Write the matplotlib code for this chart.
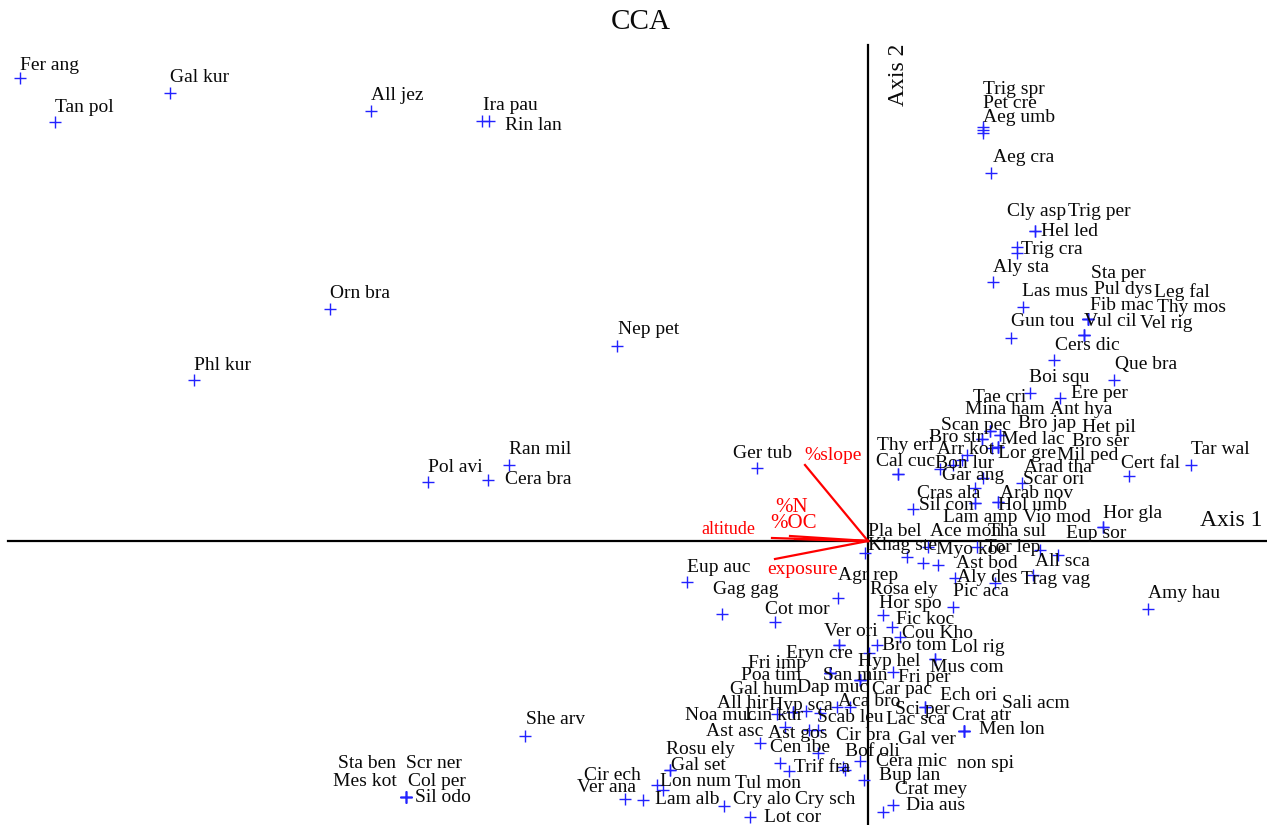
import matplotlib
matplotlib.use("Agg")
import matplotlib.pyplot as plt

# ---- species scores (CCA axis 1, axis 2) ----
names = [
    "Fer ang", "Gal kur", "Tan pol", "All jez", "Ira pau", "Rin lan", "Orn bra", "Nep pet", "Phl kur", "Ran mil", "Pol avi", "Cera bra", "Ger tub",
    "Trig spr", "Pet cre", "Aeg umb", "Aeg cra", "Cly asp", "Trig per", "Hel led", "Trig cra", "Aly sta", "Sta per", "Pul dys", "Leg fal", "Fib mac", "Thy mos", "Vul cil", "Vel rig", "Las mus", "Gun tou", "Cers dic", "Que bra", "Boi squ", "Ere per",
    "Tae cri", "Mina ham", "Ant hya", "Scan pec", "Bro jap", "Het pil", "Bro str", "Med lac", "Bro ser", "Thy eri", "Arr kot", "Lor gre", "Mil ped", "Cal cuc", "Bon lur", "Cert fal", "Tar wal",
    "Gar ang", "Arad tha", "Scar ori", "Cras ala", "Arab nov", "Sil con", "Hol umb", "Lam amp", "Vio mod", "Hor gla", "Pla bel", "Ace mon", "Tha sul", "Eup sor", "Khag ste", "Tor lep", "Myo koe", "All sca", "Ast bod", "Aly des", "Trag vag", "Pic aca", "Amy hau",
    "Eup auc", "Gag gag", "Cot mor", "Agr rep", "Rosa ely", "Hor spo", "Fic koc", "Ver ori", "Cou Kho", "Bro tom", "Lol rig", "Eryn cre", "Hyp hel", "Fri imp", "Mus com", "Poa tim", "San min", "Fri per", "Gal hum", "Dap muc", "Car pac",
    "Ech ori", "All hir", "Hyp sca", "Aca bro", "Sali acm", "Sci per", "Crat atr", "Noa muc", "Lin kur", "Scab leu", "Lac sca", "Men lon", "Ast asc", "Ast gos", "Cir bra", "Gal ver", "She arv", "Rosu ely", "Cen ibe", "Bof oli", "Cera mic", "non spi", "Gal set", "Trif fra", "Bup lan", "Cir ech", "Ver ana", "Lon num", "Tul mon", "Crat mey", "Lam alb", "Cry alo", "Cry sch", "Lot cor", "Dia aus",
    "Sta ben", "Scr ner", "Mes kot", "Col per", "Sil odo",
]

sp_x = [
    -8.48, -6.98, -8.13, -4.97, -3.86, -3.79, -5.38, -2.51, -6.74, -3.59, -4.40, -3.80, -1.11,
    1.15, 1.15, 1.15, 1.23, 1.49, 1.67, 1.67, 1.49, 1.25, 2.20, 2.20, 2.20, 2.20, 2.16, 2.16, 2.16, 1.55, 1.43, 1.86, 2.46, 1.62, 1.92,
    1.22, 1.32, 1.32, 1.14, 1.22, 1.30, 1.14, 1.24, 1.30, 0.30, 0.99, 0.94, 1.30, 0.30, 0.85, 2.61, 3.23,
    0.72, 1.15, 1.54, 1.07, 1.07, 0.45, 1.30, 1.07, 1.30, 2.35, -0.03, 0.60, 1.09, 2.35, 0.55, 1.72, 0.70, 1.90, 0.87, 1.27, 1.65, 0.85, 2.80,
    -1.81, -1.46, -0.93, -0.30, 0.39, 0.15, 0.24, -0.29, 0.32, 0.09, 0.67, -0.29, 0.01, -0.38, 0.67, -0.38, -0.38, 0.25, -0.08, -0.08, -0.08,
    0.57, -0.75, -0.75, -0.31, 0.96, 0.57, 0.96, -0.91, -0.62, -0.18, -0.48, 0.96, -1.08, -0.83, -0.59, -0.50, -3.43, -1.98, -0.50, -0.08, -0.23, 0.96, -1.98, -0.79, -0.04, -2.43, -2.25, -2.11, -0.88, 0.25, -2.05, -1.44, -0.25, -1.18, 0.15,
    -4.62, -4.62, -4.62, -4.62, -4.62,
]

sp_y = [
    4.63, 4.48, 4.19, 4.30, 4.20, 4.20, 2.32, 1.95, 1.61, 0.76, 0.59, 0.61, 0.73,
    4.14, 4.11, 4.08, 3.68, 2.94, 3.10, 3.10, 2.88, 2.59, 2.22, 2.22, 2.22, 2.22, 2.06, 2.06, 2.06, 2.34, 2.03, 1.81, 1.61, 1.48, 1.43,
    1.10, 1.06, 1.06, 1.02, 1.10, 0.94, 1.02, 0.93, 0.94, 0.67, 0.86, 0.81, 0.94, 0.67, 0.76, 0.65, 0.76,
    0.72, 0.63, 0.58, 0.53, 0.38, 0.32, 0.39, 0.38, 0.39, 0.14, -0.12, -0.06, -0.06, 0.14, -0.22, -0.09, -0.24, -0.14, -0.37, -0.42, -0.34, -0.66, -0.68,
    -0.41, -0.73, -0.81, -0.57, -0.16, -0.74, -0.86, -1.04, -0.96, -1.04, -1.18, -1.04, -1.12, -1.32, -1.18, -1.32, -1.32, -1.31, -1.39, -1.39, -1.39,
    -1.66, -1.71, -1.71, -1.66, -1.90, -1.66, -1.90, -1.73, -1.70, -1.66, -1.72, -1.90, -2.02, -1.86, -1.89, -1.89, -1.95, -2.29, -2.12, -2.20, -2.29, -1.90, -2.29, -2.30, -2.39, -2.58, -2.59, -2.44, -2.22, -2.64, -2.49, -2.65, -2.26, -2.76, -2.71,
    -2.56, -2.56, -2.56, -2.56, -2.56,
]

# label anchor (left edge, vertical centre), in the same axis units
lab_x = [
    -8.48, -6.98, -8.13, -4.97, -3.85, -3.63, -5.38, -2.50, -6.74, -3.59, -4.40, -3.63, -1.35,
    1.15, 1.15, 1.15, 1.25, 1.39, 2.00, 1.73, 1.53, 1.25, 2.23, 2.26, 2.86, 2.22, 2.89, 2.16, 2.72, 1.54, 1.43, 1.87, 2.47, 1.61, 2.03,
    1.05, 0.97, 1.82, 0.73, 1.50, 2.14, 0.61, 1.33, 2.04, 0.09, 0.69, 1.30, 1.89, 0.08, 0.67, 2.53, 3.23,
    0.74, 1.56, 1.55, 0.49, 1.32, 0.51, 1.30, 0.75, 1.55, 2.35, 0.00, 0.62, 1.20, 1.98, 0.00, 1.17, 0.68, 1.67, 0.88, 0.89, 1.53, 0.85, 2.80,
    -1.81, -1.55, -1.03, -0.30, 0.02, 0.11, 0.28, -0.44, 0.34, 0.14, 0.83, -0.82, -0.10, -1.20, 0.62, -1.27, -0.45, 0.30, -1.38, -0.71, 0.04,
    0.72, -1.51, -0.99, -0.30, 1.34, 0.27, 0.84, -1.83, -1.23, -0.51, 0.18, 1.11, -1.62, -1.00, -0.32, 0.30, -3.42, -2.02, -0.98, -0.23, 0.08, 0.89, -1.97, -0.74, 0.11, -2.84, -2.91, -2.08, -1.33, 0.27, -2.13, -1.35, -0.73, -1.04, 0.38,
    -5.30, -4.62, -5.35, -4.60, -4.53,
]

lab_y = [
    4.76, 4.63, 4.33, 4.45, 4.36, 4.16, 2.47, 2.11, 1.76, 0.91, 0.74, 0.62, 0.88,
    4.51, 4.37, 4.23, 3.84, 3.29, 3.29, 3.09, 2.91, 2.73, 2.67, 2.52, 2.49, 2.36, 2.34, 2.20, 2.18, 2.49, 2.19, 1.96, 1.76, 1.64, 1.47,
    1.44, 1.31, 1.32, 1.16, 1.18, 1.14, 1.04, 1.02, 1.00, 0.95, 0.92, 0.88, 0.85, 0.80, 0.78, 0.78, 0.91,
    0.65, 0.74, 0.61, 0.48, 0.48, 0.35, 0.35, 0.24, 0.23, 0.28, 0.09, 0.09, 0.10, 0.08, -0.05, -0.06, -0.09, -0.21, -0.23, -0.36, -0.39, -0.51, -0.53,
    -0.27, -0.49, -0.68, -0.35, -0.49, -0.63, -0.78, -0.90, -0.93, -1.05, -1.07, -1.12, -1.20, -1.22, -1.27, -1.35, -1.35, -1.37, -1.49, -1.47, -1.48,
    -1.54, -1.62, -1.65, -1.60, -1.62, -1.68, -1.75, -1.75, -1.75, -1.76, -1.79, -1.88, -1.91, -1.92, -1.95, -1.98, -1.79, -2.08, -2.07, -2.10, -2.20, -2.22, -2.25, -2.26, -2.34, -2.34, -2.47, -2.41, -2.42, -2.48, -2.59, -2.59, -2.59, -2.76, -2.65,
    -2.22, -2.22, -2.40, -2.40, -2.56,
]

# ---- environmental variables (biplot arrows) ----
env_names = ["%slope", "altitude", "%N", "%OC", "exposure"]
env_x = [-0.63, -0.96, -0.78, -0.73, -0.93]
env_y = [0.76, 0.03, 0.05, 0.02, -0.18]
env_lab_x = [-0.64, -1.67, -0.93, -0.98, -1.01]
env_lab_y = [0.86, 0.11, 0.33, 0.18, -0.28]

assert len(names) == len(sp_x) == len(sp_y) == len(lab_x) == len(lab_y)

SERIF = ["Liberation Serif", "DejaVu Serif"]
ENV_SIZE = {"%slope": 14, "altitude": 13, "%N": 15, "%OC": 15, "exposure": 14}

fig = plt.figure(figsize=(12.67, 8.25), dpi=100)
ax = fig.add_axes([0, 0, 1, 1])
ax.set_xlim(-8.68, 3.99)
ax.set_ylim(-2.84, 5.41)
ax.axis("off")

# axes cross
ax.plot([-8.60, 3.99], [0, 0], color="black", lw=1.6, zorder=1)
ax.plot([0, 0], [-2.84, 4.96], color="black", lw=1.6, zorder=1)

# arrows (plain red segments)
for ex, ey in zip(env_x, env_y):
    ax.plot([0, ex], [0, ey], color="red", lw=1.6, zorder=2)
for nm, lx, ly in zip(env_names, env_lab_x, env_lab_y):
    ax.text(lx, ly, nm, color="red", fontsize=ENV_SIZE[nm], family=SERIF,
            ha="left", va="center", zorder=4)

# species points
ax.plot(sp_x, sp_y, linestyle="none", marker="+", color="#2222ff",
        markersize=8, markeredgewidth=1.0, zorder=3)
for nm, lx, ly in zip(names, lab_x, lab_y):
    ax.text(lx, ly, nm, color="#0a0a0a", fontsize=14, family=SERIF,
            ha="left", va="center", zorder=4)

# titles / axis names
fig.text(641 / 1267, 1 - 22 / 825, "CCA", fontsize=21, family=SERIF,
         ha="center", va="center", color="#0a0a0a")
fig.text(1231 / 1267, 1 - 520 / 825, "Axis 1", fontsize=17, family=SERIF,
         ha="center", va="center", color="#0a0a0a")
fig.text(898 / 1267, 1 - 75 / 825, "Axis 2", fontsize=17, family=SERIF,
         ha="center", va="center", rotation=90, color="#0a0a0a")

fig.savefig("out.png", dpi=100)
